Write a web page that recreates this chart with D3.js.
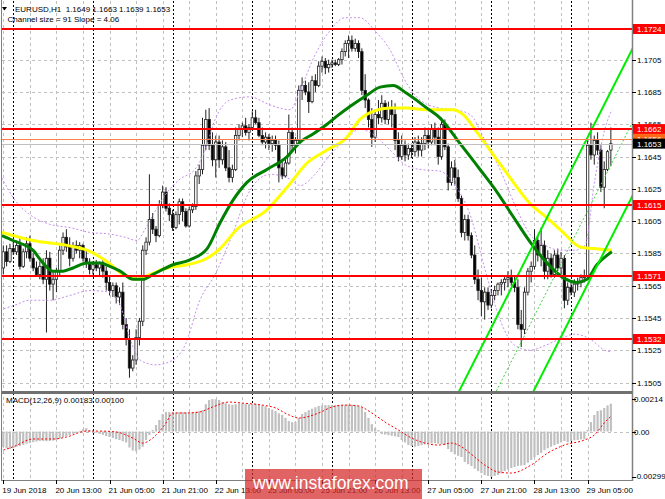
<!DOCTYPE html>
<html><head><meta charset="utf-8">
<script src="https://cdn.jsdelivr.net/npm/d3@7"></script>
<style>body{margin:0;background:#fff}svg{display:block}text{font-family:"Liberation Sans",Arial,sans-serif}</style>
</head><body><svg id="c" width="665" height="499"></svg>
<script>
// ---------- DATA ----------
const openP = [1.1576,1.1586,1.1580,1.1588,1.1586,1.1590,1.1577,1.1586,1.1591,1.1582,1.1576,1.1572,1.1577,1.1569,1.1582,1.1566,1.1569,1.1574,1.1587,1.1595,1.1589,1.1582,1.1590,1.1587,1.1590,1.1582,1.1579,1.1575,1.1578,1.1576,1.1579,1.1574,1.1567,1.1562,1.1565,1.1558,1.1561,1.1541,1.1532,1.1514,1.1519,1.1533,1.1543,1.1587,1.1592,1.1606,1.1600,1.1596,1.1615,1.1623,1.1613,1.1609,1.1601,1.1609,1.1617,1.1611,1.1602,1.1612,1.1614,1.1633,1.1637,1.1652,1.1668,1.1652,1.1643,1.1654,1.1643,1.1651,1.1638,1.1632,1.1637,1.1658,1.1662,1.1664,1.1660,1.1663,1.1669,1.1666,1.1658,1.1654,1.1657,1.1653,1.1655,1.1652,1.1638,1.1633,1.1641,1.1660,1.1652,1.1655,1.1686,1.1689,1.1685,1.1679,1.1692,1.1689,1.1701,1.1704,1.1700,1.1702,1.1703,1.1702,1.1705,1.1710,1.1715,1.1717,1.1712,1.1715,1.1710,1.1686,1.1680,1.1668,1.1657,1.1671,1.1669,1.1678,1.1668,1.1675,1.1671,1.1655,1.1645,1.1652,1.1646,1.1650,1.1648,1.1654,1.1649,1.1653,1.1658,1.1654,1.1662,1.1657,1.1645,1.1665,1.1651,1.1629,1.1638,1.1632,1.1619,1.1598,1.1606,1.1596,1.1584,1.1569,1.1562,1.1555,1.1561,1.1553,1.1559,1.1562,1.1566,1.1567,1.1569,1.1570,1.1567,1.1564,1.1541,1.1538,1.1561,1.1574,1.1577,1.1593,1.1584,1.1590,1.1574,1.1582,1.1572,1.1584,1.1576,1.1582,1.1556,1.1564,1.1561,1.1566,1.1567,1.1570,1.1571,1.1652,1.1646,1.1655,1.1649,1.1626,1.1637,1.1649];
const highP = [1.1590,1.1590,1.1591,1.1592,1.1593,1.1595,1.1588,1.1595,1.1596,1.1585,1.1580,1.1580,1.1582,1.1587,1.1586,1.1574,1.1576,1.1590,1.1598,1.1600,1.1595,1.1592,1.1593,1.1592,1.1591,1.1587,1.1582,1.1580,1.1581,1.1580,1.1582,1.1577,1.1571,1.1567,1.1567,1.1564,1.1567,1.1545,1.1538,1.1522,1.1538,1.1545,1.1590,1.1595,1.1634,1.1610,1.1602,1.1618,1.1627,1.1626,1.1616,1.1612,1.1611,1.1619,1.1619,1.1613,1.1614,1.1616,1.1636,1.1640,1.1669,1.1674,1.1675,1.1660,1.1658,1.1658,1.1655,1.1654,1.1649,1.1640,1.1663,1.1665,1.1666,1.1669,1.1665,1.1673,1.1674,1.1669,1.1663,1.1660,1.1659,1.1658,1.1658,1.1655,1.1643,1.1644,1.1671,1.1663,1.1657,1.1689,1.1694,1.1692,1.1691,1.1695,1.1696,1.1704,1.1707,1.1706,1.1705,1.1705,1.1705,1.1706,1.1712,1.1717,1.1720,1.1720,1.1718,1.1717,1.1712,1.1696,1.1681,1.1675,1.1674,1.1680,1.1683,1.1680,1.1679,1.1680,1.1678,1.1660,1.1658,1.1655,1.1653,1.1653,1.1657,1.1658,1.1657,1.1663,1.1662,1.1665,1.1666,1.1663,1.1669,1.1668,1.1653,1.1642,1.1643,1.1637,1.1621,1.1609,1.1609,1.1598,1.1590,1.1575,1.1570,1.1564,1.1564,1.1562,1.1565,1.1567,1.1569,1.1571,1.1574,1.1575,1.1571,1.1569,1.1550,1.1564,1.1576,1.1580,1.1600,1.1596,1.1601,1.1593,1.1587,1.1585,1.1587,1.1588,1.1586,1.1584,1.1567,1.1567,1.1569,1.1570,1.1572,1.1575,1.1655,1.1666,1.1658,1.1660,1.1652,1.1642,1.1649,1.1663];
const lowP = [1.1572,1.1577,1.1579,1.1584,1.1584,1.1575,1.1576,1.1582,1.1580,1.1574,1.1571,1.1569,1.1566,1.1536,1.1562,1.1556,1.1561,1.1571,1.1584,1.1586,1.1577,1.1580,1.1585,1.1582,1.1580,1.1576,1.1572,1.1572,1.1574,1.1571,1.1570,1.1562,1.1559,1.1558,1.1554,1.1553,1.1538,1.1528,1.1508,1.1512,1.1516,1.1528,1.1540,1.1584,1.1590,1.1597,1.1592,1.1595,1.1613,1.1611,1.1605,1.1599,1.1600,1.1603,1.1605,1.1601,1.1601,1.1610,1.1612,1.1628,1.1634,1.1649,1.1649,1.1639,1.1632,1.1638,1.1640,1.1636,1.1629,1.1629,1.1636,1.1655,1.1657,1.1658,1.1655,1.1662,1.1665,1.1657,1.1652,1.1650,1.1649,1.1648,1.1649,1.1629,1.1631,1.1632,1.1640,1.1649,1.1647,1.1654,1.1680,1.1683,1.1672,1.1678,1.1685,1.1688,1.1697,1.1696,1.1697,1.1700,1.1701,1.1701,1.1702,1.1707,1.1706,1.1710,1.1710,1.1706,1.1683,1.1675,1.1663,1.1651,1.1654,1.1665,1.1666,1.1665,1.1665,1.1663,1.1649,1.1642,1.1643,1.1642,1.1643,1.1644,1.1645,1.1645,1.1645,1.1649,1.1650,1.1652,1.1652,1.1640,1.1643,1.1649,1.1624,1.1627,1.1627,1.1617,1.1595,1.1593,1.1593,1.1582,1.1566,1.1556,1.1546,1.1544,1.1550,1.1551,1.1556,1.1559,1.1559,1.1562,1.1564,1.1565,1.1561,1.1538,1.1527,1.1535,1.1559,1.1567,1.1575,1.1580,1.1577,1.1569,1.1569,1.1570,1.1570,1.1574,1.1572,1.1551,1.1553,1.1559,1.1558,1.1562,1.1564,1.1567,1.1569,1.1643,1.1640,1.1646,1.1623,1.1613,1.1636,1.1639];
const closeP = [1.1586,1.1580,1.1588,1.1586,1.1590,1.1577,1.1586,1.1591,1.1582,1.1576,1.1572,1.1577,1.1569,1.1582,1.1566,1.1569,1.1574,1.1587,1.1595,1.1589,1.1582,1.1590,1.1587,1.1590,1.1582,1.1579,1.1575,1.1578,1.1576,1.1579,1.1574,1.1567,1.1562,1.1565,1.1558,1.1561,1.1541,1.1532,1.1514,1.1519,1.1533,1.1543,1.1587,1.1592,1.1606,1.1600,1.1596,1.1615,1.1623,1.1613,1.1609,1.1601,1.1609,1.1617,1.1611,1.1602,1.1612,1.1614,1.1633,1.1637,1.1652,1.1668,1.1652,1.1643,1.1654,1.1643,1.1651,1.1638,1.1632,1.1637,1.1658,1.1662,1.1664,1.1660,1.1663,1.1669,1.1666,1.1658,1.1654,1.1657,1.1653,1.1655,1.1652,1.1638,1.1633,1.1641,1.1660,1.1652,1.1655,1.1686,1.1689,1.1685,1.1679,1.1692,1.1689,1.1701,1.1704,1.1700,1.1702,1.1703,1.1702,1.1705,1.1710,1.1715,1.1717,1.1712,1.1715,1.1710,1.1686,1.1680,1.1668,1.1657,1.1671,1.1669,1.1678,1.1668,1.1675,1.1671,1.1655,1.1645,1.1652,1.1646,1.1650,1.1648,1.1654,1.1649,1.1653,1.1658,1.1654,1.1662,1.1657,1.1645,1.1665,1.1651,1.1629,1.1638,1.1632,1.1619,1.1598,1.1606,1.1596,1.1584,1.1569,1.1562,1.1555,1.1561,1.1553,1.1559,1.1562,1.1566,1.1567,1.1569,1.1570,1.1567,1.1564,1.1541,1.1538,1.1561,1.1574,1.1577,1.1593,1.1584,1.1590,1.1574,1.1582,1.1572,1.1584,1.1576,1.1582,1.1556,1.1564,1.1561,1.1566,1.1567,1.1570,1.1571,1.1652,1.1646,1.1655,1.1649,1.1626,1.1637,1.1648,1.1653];

const macdHist = [-0.00102,-0.00110,-0.00115,-0.00110,-0.00100,-0.00095,-0.00088,-0.00080,-0.00076,-0.00070,-0.00066,-0.00062,-0.00062,-0.00064,-0.00062,-0.00060,-0.00056,-0.00046,-0.00036,-0.00030,-0.00022,-0.00015,-0.00010,0.00005,0.00016,0.00023,0.00010,-0.00003,-0.00008,-0.00016,-0.00022,-0.00030,-0.00036,-0.00042,-0.00050,-0.00056,-0.00064,-0.00072,-0.00105,-0.00125,-0.00130,-0.00118,-0.00100,-0.00056,-0.00023,0.00010,0.00043,0.00076,0.00115,0.00128,0.00128,0.00126,0.00125,0.00127,0.00128,0.00126,0.00125,0.00127,0.00130,0.00134,0.00140,0.00180,0.00207,0.00214,0.00212,0.00207,0.00194,0.00187,0.00180,0.00176,0.00180,0.00184,0.00186,0.00183,0.00180,0.00182,0.00184,0.00178,0.00172,0.00166,0.00155,0.00145,0.00135,0.00120,0.00109,0.00090,0.00069,0.00062,0.00062,0.00089,0.00115,0.00128,0.00140,0.00150,0.00160,0.00168,0.00172,0.00174,0.00174,0.00174,0.00174,0.00174,0.00175,0.00176,0.00178,0.00176,0.00172,0.00168,0.00160,0.00128,0.00089,0.00049,0.00023,0.00010,-0.00016,-0.00020,-0.00024,-0.00028,-0.00032,-0.00036,-0.00056,-0.00072,-0.00089,-0.00095,-0.00100,-0.00095,-0.00090,-0.00085,-0.00080,-0.00078,-0.00076,-0.00080,-0.00082,-0.00090,-0.00115,-0.00135,-0.00150,-0.00160,-0.00168,-0.00200,-0.00215,-0.00227,-0.00245,-0.00260,-0.00273,-0.00286,-0.00292,-0.00299,-0.00292,-0.00286,-0.00275,-0.00260,-0.00250,-0.00240,-0.00233,-0.00227,-0.00224,-0.00220,-0.00205,-0.00187,-0.00170,-0.00155,-0.00140,-0.00122,-0.00110,-0.00100,-0.00090,-0.00082,-0.00072,-0.00062,-0.00070,-0.00062,-0.00058,-0.00055,-0.00052,-0.00050,0.00010,0.00062,0.00109,0.00135,0.00140,0.00155,0.00172,0.00183];
const signalBars = [0,3,9,15,19,25,29,34,39,42,45,49,51,55,59,63,68,72,78,82,86,89,95,99,103,107,111,115,119,123,127,131,135,138,141,145,149,153,159,164,169,175,178,181,183];
const signalVals = [-0.00122,-0.00100,-0.00049,-0.00049,-0.00036,0.00003,0.00003,-0.00003,-0.00043,-0.00076,-0.00043,0.00056,0.00122,0.00122,0.00128,0.00161,0.00194,0.00187,0.00174,0.00155,0.00109,0.00089,0.00122,0.00161,0.00174,0.00168,0.00122,0.00062,0.00010,-0.00043,-0.00076,-0.00089,-0.00076,-0.00100,-0.00150,-0.00220,-0.00266,-0.00273,-0.00220,-0.00141,-0.00089,-0.00056,-0.00023,0.00056,0.00100];

const maGreenBars = [-0.4,2.9,8.9,12,15,18,21,25.2,29.1,32.1,35.2,39.1,42.1,45.1,51.1,56.2,61.4,65.3,69.2,73.4,79.4,85.5,89.4,93.3,97.5,100.5,104.4,109.5,113.5,117.4,121.6,127.6,131.5,137.6,143.6,148.7,153.5,158.7,163.8,168.6,172.8,175.8,178.8,183.3];
const maGreenVals = [1.1596,1.1593,1.1587,1.1579,1.1574,1.1574,1.1576,1.1579,1.1579,1.1577,1.1574,1.1569,1.1569,1.1572,1.1578,1.1581,1.1588,1.1604,1.1618,1.1629,1.1637,1.1645,1.1654,1.1659,1.1665,1.1670,1.1676,1.1683,1.1688,1.1689,1.1684,1.1675,1.1669,1.1653,1.1637,1.1623,1.1608,1.1592,1.1579,1.1570,1.1567,1.1569,1.1578,1.1586];
const maYellowBars = [-0.4,8.9,19.2,25.2,31.2,36.1,40.3,44.2,49.3,55.3,61.4,65.3,70.4,79.4,85.5,91.5,97.5,103.5,107.4,111.4,116.5,121.6,127.6,135.5,138.5,142.7,148.7,152.6,158.6,163.8,168.6,173.7,177.6,183.3];
const maYellowVals = [1.1598,1.1593,1.1590,1.1587,1.1580,1.1572,1.1569,1.1572,1.1576,1.1578,1.1582,1.1588,1.1600,1.1612,1.1626,1.1641,1.1649,1.1657,1.1668,1.1673,1.1675,1.1675,1.1674,1.1674,1.1671,1.1660,1.1643,1.1632,1.1616,1.1607,1.1598,1.1589,1.1588,1.1587];

const bandUpperBars = [-1,3.5,8,14.1,20.1,26.1,32.1,36.7,40.3,42.7,45.7,48.7,53.2,57.7,60.8,63.8,68.3,74.3,80.3,86.4,89.4,93.9,98.4,102.9,107.4,111.9,116.5,121,125.5,131.5,136.1,140.6,145.1,149.6,154.1,158.6,163.2,167.7,172.2,175.2,178.2,181.2,183.3];
const bandUpper = [1.1634,1.1618,1.1609,1.1603,1.1601,1.1598,1.1597,1.1595,1.1593,1.1600,1.1611,1.1621,1.1631,1.1637,1.1649,1.1668,1.1680,1.1682,1.1677,1.1674,1.1686,1.1708,1.1723,1.1731,1.1731,1.1723,1.1711,1.1692,1.1680,1.1675,1.1674,1.1671,1.1655,1.1637,1.1615,1.1597,1.1590,1.1587,1.1587,1.1590,1.1631,1.1662,1.1674];
const bandLowerBars = [-1,3.5,8,14.1,20.1,26.1,32.1,35.2,38.2,41.2,45.7,50.2,54.7,59.2,63.8,68.3,74.3,80.3,86.4,89.4,93.9,98.4,102.9,107.4,111.9,116.5,121,125.5,131.5,136.1,140.6,145.1,149.6,154.1,158.6,163.2,167.7,172.2,176.7,181.2,183.3];
const bandLower = [1.1550,1.1553,1.1556,1.1556,1.1559,1.1562,1.1561,1.1553,1.1532,1.1519,1.1516,1.1518,1.1528,1.1556,1.1572,1.1593,1.1624,1.1634,1.1631,1.1627,1.1634,1.1646,1.1655,1.1662,1.1658,1.1649,1.1640,1.1637,1.1636,1.1627,1.1609,1.1575,1.1544,1.1528,1.1525,1.1528,1.1532,1.1535,1.1532,1.1525,1.1524];

const priceTicks = [1.1705,1.1685,1.1665,1.1645,1.1625,1.1605,1.1585,1.1565,1.1545,1.1525,1.1505];
const redLevels = [1.1724,1.1662,1.1615,1.1571,1.1532];
const orangeLevel = 1.1656, bidLevel = 1.1653;
const timeLabels = ["19 Jun 2018","20 Jun 13:00","21 Jun 05:00","21 Jun 21:00","22 Jun 13:00","25 Jun 05:00","25 Jun 21:00","26 Jun 13:00","27 Jun 05:00","27 Jun 21:00","28 Jun 13:00","29 Jun 05:00"];
const timeLabelBars = [0,16,32,48,64,80,96,112,128,144,160,176];
const daySeparatorBars = [3,27,51,75,99,123,147,171];
const channelSize = 91, channelSlope = 4.06; // pips, pips per bar
const channelAnchorBar = 140.57, channelUpperAtAnchor = 1.1513;
const macdLabels = [0.00214, 0.00, -0.00299];
const macdTitle = "MACD(12,26,9) 0.00183 0.00100";
const header1 = "EURUSD,H1  1.1649 1.1663 1.1639 1.1653";

// ---------- LAYOUT ----------
const L = 2, R = 632, T = 1, MAINB = 391, MT = 394, MB = 480;
const svg = d3.select("#c");
svg.append("rect").attr("width",665).attr("height",499).attr("fill","#fff");
const x = d3.scaleLinear().domain([0,183]).range([3.3, 3.3+3.32*183]);
const y = d3.scaleLinear().domain([1.1532,1.1724]).range([339,29]);
const ym = d3.scaleLinear().domain([-0.00299,0.00214]).range([477,399]);

const defs = svg.append("defs");
defs.append("clipPath").attr("id","cm").append("rect").attr("x",L).attr("y",T).attr("width",R-L).attr("height",MAINB-T);
defs.append("clipPath").attr("id","cd").append("rect").attr("x",L).attr("y",MT).attr("width",R-L).attr("height",MB-MT);

// grid
const g = svg.append("g");
g.selectAll(".hg").data(priceTicks).join("line")
  .attr("x1",L).attr("x2",R).attr("y1",d=>Math.round(y(d))+0.5).attr("y2",d=>Math.round(y(d))+0.5)
  .attr("stroke","#c0c0c0").attr("stroke-dasharray","3,3");
const gridBars = d3.range(0,184,8);
g.selectAll(".vg").data(gridBars).join("line")
  .attr("x1",d=>Math.round(x(d))+0.5).attr("x2",d=>Math.round(x(d))+0.5).attr("y1",T).attr("y2",MB)
  .attr("stroke","#c0c0c0").attr("stroke-dasharray","3,3");
g.selectAll(".ds").data(daySeparatorBars).join("line")
  .attr("x1",d=>Math.round(x(d))+0.5).attr("x2",d=>Math.round(x(d))+0.5).attr("y1",T).attr("y2",MB)
  .attr("stroke","#000").attr("stroke-dasharray","2,2");
g.append("line").attr("x1",L).attr("x2",R).attr("y1",Math.round(ym(0))+0.5).attr("y2",Math.round(ym(0))+0.5)
  .attr("stroke","#c0c0c0").attr("stroke-dasharray","3,3");

// main panel
const mp = svg.append("g").attr("clip-path","url(#cm)");
const idx = d3.range(openP.length);
mp.selectAll(".wk").data(idx).join("line")
  .attr("x1",i=>x(i)).attr("x2",i=>x(i)).attr("y1",i=>y(highP[i])).attr("y2",i=>y(lowP[i]))
  .attr("stroke","#202020").attr("stroke-width",1);
mp.selectAll(".bd").data(idx).join("rect")
  .attr("x",i=>x(i)-1.2).attr("width",2.4)
  .attr("y",i=>y(Math.max(openP[i],closeP[i])))
  .attr("height",i=>Math.max(0.8,Math.abs(y(openP[i])-y(closeP[i]))))
  .attr("fill",i=>closeP[i]>=openP[i]?"#fff":"#000")
  .attr("stroke","#202020").attr("stroke-width",0.8);

const curve = d3.curveMonotoneX;
const pLine = d3.line().x(d=>x(d[0])).y(d=>y(d[1])).curve(curve);
mp.append("path").attr("d",pLine(bandUpperBars.map((b,i)=>[b,bandUpper[i]])))
  .attr("fill","none").attr("stroke","#c58ef0").attr("stroke-dasharray","2,2");
mp.append("path").attr("d",pLine(bandLowerBars.map((b,i)=>[b,bandLower[i]])))
  .attr("fill","none").attr("stroke","#c58ef0").attr("stroke-dasharray","2,2");

mp.append("path").attr("d",pLine(maYellowBars.map((b,i)=>[b,maYellowVals[i]])))
  .attr("fill","none").attr("stroke","#ffff00").attr("stroke-width",3);
mp.append("path").attr("d",pLine(maGreenBars.map((b,i)=>[b,maGreenVals[i]])))
  .attr("fill","none").attr("stroke","#008000").attr("stroke-width",3);

// regression channel
const pip = 0.0001;
const chan = [0, -channelSize/2, -channelSize].map(off=>{
  const b0 = 130, b1 = 192;
  const p = b => channelUpperAtAnchor + (b-channelAnchorBar)*channelSlope*pip + off*pip;
  return {b0,b1,p0:p(b0),p1:p(b1),mid:off===-channelSize/2};
});
mp.selectAll(".ch").data(chan).join("line")
  .attr("x1",d=>x(d.b0)).attr("x2",d=>x(d.b1)).attr("y1",d=>y(d.p0)).attr("y2",d=>y(d.p1))
  .attr("stroke",d=>d.mid?"#3ad43a":"#00ee00").attr("stroke-width",d=>d.mid?1:2)
  .attr("stroke-dasharray",d=>d.mid?"2,2":null);

// horizontal lines
mp.append("line").attr("x1",L).attr("x2",R).attr("y1",Math.round(y(bidLevel))+0.5).attr("y2",Math.round(y(bidLevel))+0.5).attr("stroke","#c0c0c0");
mp.append("line").attr("x1",L).attr("x2",R).attr("y1",Math.round(y(orangeLevel))+0.5).attr("y2",Math.round(y(orangeLevel))+0.5).attr("stroke","#ff7f50");
mp.selectAll(".rl").data(redLevels).join("line")
  .attr("x1",L).attr("x2",R).attr("y1",d=>Math.round(y(d))).attr("y2",d=>Math.round(y(d)))
  .attr("stroke","#ff0000").attr("stroke-width",2);

// MACD panel
const md = svg.append("g").attr("clip-path","url(#cd)");
md.selectAll(".mh").data(idx).join("rect")
  .attr("x",i=>x(i)-1.1).attr("width",2.2)
  .attr("y",i=>Math.min(ym(0),ym(macdHist[i])))
  .attr("height",i=>Math.abs(ym(macdHist[i])-ym(0)))
  .attr("fill","#c0c0c0");
md.append("path").attr("d",d3.line().x(d=>x(d[0])).y(d=>ym(d[1])).curve(curve)(signalBars.map((b,i)=>[b,signalVals[i]])))
  .attr("fill","none").attr("stroke","#ff0000").attr("stroke-dasharray","2,2");

// frames
svg.append("line").attr("x1",L-0.5).attr("x2",L-0.5).attr("y1",0).attr("y2",MB).attr("stroke","#808080");
svg.append("line").attr("x1",R+0.5).attr("x2",R+0.5).attr("y1",0).attr("y2",MB+1).attr("stroke","#808080").attr("stroke-width",1.5);
svg.append("line").attr("x1",L).attr("x2",R).attr("y1",392.5).attr("y2",392.5).attr("stroke","#707070").attr("stroke-width",3);
svg.append("line").attr("x1",L-1).attr("x2",R+1).attr("y1",MB+0.5).attr("y2",MB+0.5).attr("stroke","#808080");

// right axis price labels
const ax = svg.append("g").attr("font-size",8).attr("fill","#000");
ax.selectAll(".pt").data(priceTicks).join("line")
  .attr("x1",R).attr("x2",R+4).attr("y1",d=>Math.round(y(d))+0.5).attr("y2",d=>Math.round(y(d))+0.5).attr("stroke","#000");
ax.selectAll(".pl").data(priceTicks).join("text")
  .attr("x",637).attr("y",d=>y(d)+3).text(d=>d.toFixed(4));
const boxes = redLevels.map(p=>({p,c:"#ff0000"})).concat([{p:orangeLevel,c:"#ff6a1a"},{p:bidLevel,c:"#000000"}]);
const bx = svg.append("g");
boxes.forEach(b=>{
  bx.append("rect").attr("x",R+1).attr("y",y(b.p)-5).attr("width",665-R-1).attr("height",10).attr("fill",b.c);
  bx.append("text").attr("x",637).attr("y",y(b.p)+3).attr("font-size",8).attr("fill","#fff").text(b.p.toFixed(4));
});
// MACD labels
svg.append("g").attr("font-size",8).selectAll("text").data(macdLabels).join("text")
  .attr("x",634).attr("y",d=>Math.min(ym(d)+3,479)).text(d=>d===0?"0.00":d.toFixed(5));
svg.append("g").selectAll("line").data(macdLabels).join("line")
  .attr("x1",R).attr("x2",R+4).attr("y1",d=>Math.round(ym(d))+0.5).attr("y2",d=>Math.round(ym(d))+0.5).attr("stroke","#000");

// time labels
const tl = svg.append("g").attr("font-size",8);
tl.selectAll("line").data(timeLabelBars).join("line")
  .attr("x1",d=>Math.round(x(d))+0.5).attr("x2",d=>Math.round(x(d))+0.5).attr("y1",MB).attr("y2",MB+4).attr("stroke","#000");
tl.selectAll("text").data(timeLabels).join("text")
  .attr("x",(d,i)=>x(timeLabelBars[i])-1).attr("y",493).text(d=>d);

// headers
svg.append("path").attr("d","M2,7 L7,7 L4.5,10.5 Z").attr("fill","#000");
svg.append("text").attr("x",15).attr("y",11.5).attr("font-size",8).style("white-space","pre").text(header1);
svg.append("text").attr("x",7.5).attr("y",21.5).attr("font-size",8).text(`Channel size = ${channelSize} Slope = ${channelSlope.toFixed(2)}`);
svg.append("text").attr("x",6).attr("y",403).attr("font-size",8).style("white-space","pre").text(macdTitle);

// watermark
svg.append("rect").attr("x",245).attr("y",469).attr("width",177).attr("height",30).attr("fill","rgba(214,40,40,0.72)");
svg.append("text").attr("x",253).attr("y",489).attr("font-size",17.5).attr("fill","#fff").text("www.instaforex.com");
</script></body></html>
